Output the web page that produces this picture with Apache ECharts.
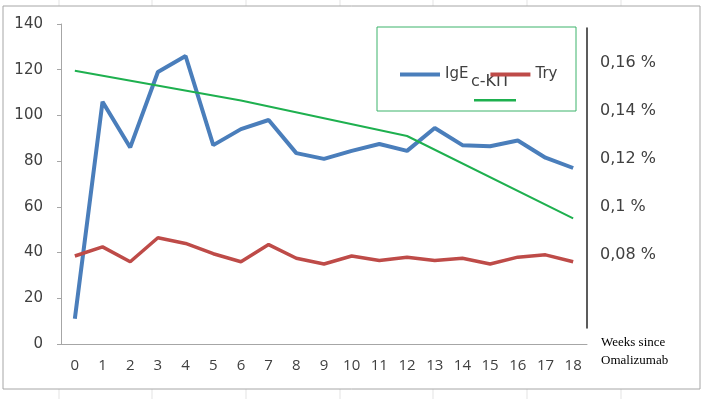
<!DOCTYPE html>
<html>
<head>
<meta charset="utf-8">
<script src="https://cdn.jsdelivr.net/npm/echarts@6/dist/echarts.min.js"></script>
<style>
  html, body { margin: 0; padding: 0; background: #fff; }
  #main { width: 709px; height: 399px; }
</style>
</head>
<body>
<div id="main"></div>
<script>
var weeks = ['0', '1', '2', '3', '4', '5', '6', '7', '8', '9', '10', '11', '12', '13', '14', '15', '16', '17', '18'];
var ige = [11, 106, 86, 119, 126, 87, 94, 98, 83.5, 81, 84.5, 87.5, 84.5, 94.5, 87, 86.5, 89, 81.5, 77];
var tryp = [38.5, 42.5, 36, 46.5, 44, 39.5, 36, 43.5, 37.5, 35, 38.5, 36.5, 38, 36.5, 37.5, 35, 38, 39, 36];
// c-KIT only read at weeks 0, 6, 12 and 18
var ckit = [119.5, null, null, null, null, null, 106.5, null, null, null, null, null, 91, null, null, null, null, null, 55];
var ckitTicks = [0.08, 0.1, 0.12, 0.14, 0.16];

var chart = echarts.init(document.getElementById('main'));

var cellLines = [];
[59, 152, 246, 340, 433, 527, 621].forEach(function (x) {
    cellLines.push({ type: 'line', shape: { x1: x, y1: 0, x2: x, y2: 6 }, style: { stroke: '#e3e3e3', lineWidth: 1 }, silent: true });
    cellLines.push({ type: 'line', shape: { x1: x, y1: 389, x2: x, y2: 399 }, style: { stroke: '#e3e3e3', lineWidth: 1 }, silent: true });
});

var option = {
    animation: false,
    backgroundColor: '#fff',
    grid: [
        { left: 61, top: 24, right: 122, bottom: 55 },
        { left: 587, top: 28, width: 1, height: 300 }
    ],
    legend: [{
        data: ['IgE', 'Try'],
        left: 395,
        top: 62,
        icon: 'rect',
        itemWidth: 40,
        itemHeight: 4,
        itemGap: 22,
        textStyle: { fontFamily: 'DejaVu Sans', fontSize: 15, color: '#404040' }
    }, {
        data: ['c-KIT'],
        left: 469,
        top: 94,
        icon: 'rect',
        itemWidth: 42,
        itemHeight: 2.5,
        formatter: function () { return ''; },
        textStyle: { fontSize: 1 }
    }],
    xAxis: [{
        type: 'category',
        data: weeks,
        gridIndex: 0,
        axisLine: { lineStyle: { color: '#a6a6a6', width: 1 } },
        axisTick: { length: 5, lineStyle: { color: '#a6a6a6' } },
        axisLabel: { fontFamily: 'Open Sans', fontSize: 15, color: '#404040', margin: 14 }
    }, {
        type: 'value',
        gridIndex: 1,
        show: false
    }],
    yAxis: [{
        type: 'value',
        gridIndex: 0,
        min: 0,
        max: 140,
        interval: 20,
        axisLine: { show: true, lineStyle: { color: '#a6a6a6', width: 1 } },
        axisTick: { show: true, length: 4, lineStyle: { color: '#a6a6a6' } },
        splitLine: { show: false },
        axisLabel: { fontFamily: 'DejaVu Sans', fontSize: 15, color: '#404040', margin: 18 }
    }, {
        type: 'value',
        gridIndex: 1,
        position: 'right',
        min: 0.0497,
        max: 0.1746,
        axisLine: { show: true, lineStyle: { color: '#262626', width: 1.5 } },
        axisTick: { show: false },
        splitLine: { show: false },
        axisLabel: {
            customValues: ckitTicks,
            fontFamily: 'DejaVu Sans',
            fontSize: 16,
            color: '#404040',
            margin: 12,
            formatter: function (v) { return String(v).replace('.', ',') + ' %'; }
        }
    }],
    series: [{
        name: 'IgE',
        type: 'line',
        data: ige,
        symbol: 'none',
        color: '#4a7ebb',
        lineStyle: { width: 4, color: '#4a7ebb' }
    }, {
        name: 'Try',
        type: 'line',
        data: tryp,
        symbol: 'none',
        color: '#be4b48',
        lineStyle: { width: 3.5, color: '#be4b48' }
    }, {
        name: 'c-KIT',
        type: 'line',
        data: ckit,
        connectNulls: true,
        symbol: 'none',
        color: '#1eb04f',
        lineStyle: { width: 2, color: '#1eb04f' }
    }],
    graphic: cellLines.concat([
        { type: 'rect', shape: { x: 3, y: 6, width: 697, height: 383 }, style: { fill: 'none', stroke: '#a6a6a6', lineWidth: 1 }, silent: true },
        { type: 'rect', shape: { x: 377, y: 27, width: 199, height: 84 }, style: { fill: 'none', stroke: '#3cb36a', lineWidth: 1 }, silent: true },
        { type: 'text', left: 471, top: 74, style: { text: 'c-KIT', fontFamily: 'DejaVu Sans', fontSize: 16, fill: '#404040' } },
        { type: 'text', left: 601, top: 334, style: { text: 'Weeks since\nOmalizumab', fontFamily: 'Liberation Serif', fontSize: 13, lineHeight: 18, fill: '#000' } }
    ])
};

chart.setOption(option);
</script>
</body>
</html>
